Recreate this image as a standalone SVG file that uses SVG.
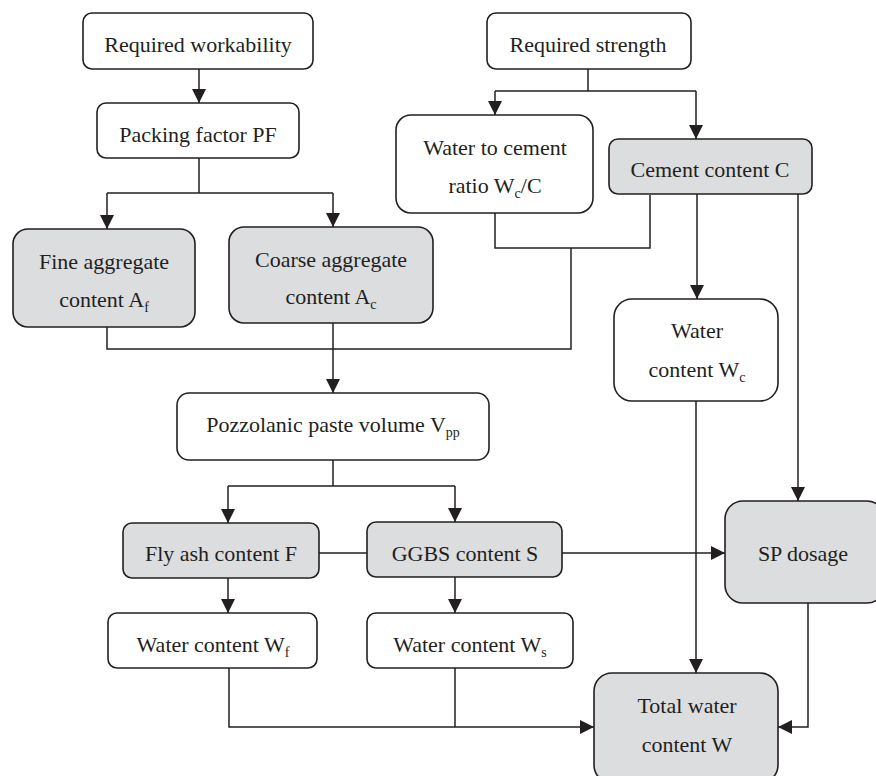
<svg xmlns="http://www.w3.org/2000/svg" width="876" height="776" viewBox="0 0 876 776">
<defs>
<marker id="ah" markerUnits="userSpaceOnUse" markerWidth="14" markerHeight="14" viewBox="0 0 14 14" refX="14" refY="7" orient="auto">
<path d="M0,0 L14,7 L0,14 Z" fill="#231f20"/>
</marker>
<style>
.b{fill:#fff;stroke:#231f20;stroke-width:1.6}
.g{fill:#dcdddf;stroke:#231f20;stroke-width:1.6}
.t{font-family:"Liberation Serif","Times New Roman",serif;font-size:22px;fill:#231f20;text-anchor:middle}
.s{font-size:14px}
.c{fill:none;stroke:#231f20;stroke-width:1.5}
.a{fill:none;stroke:#231f20;stroke-width:1.5;marker-end:url(#ah)}
</style>
</defs>
<rect width="876" height="776" fill="#fff"/>
<g id="connectors">
<path class="a" d="M199,69 V103"/>
<path class="c" d="M199,158 V193 M107,193 H333"/>
<path class="a" d="M107,193 V229"/>
<path class="a" d="M333,193 V227"/>
<path class="c" d="M588,69 V91 M495,91 H696"/>
<path class="a" d="M495,91 V115"/>
<path class="a" d="M696,91 V139"/>
<path class="c" d="M495,213 V248 H650 V195"/>
<path class="c" d="M571,248 V349 H107 V327"/>
<path class="a" d="M333,323 V393"/>
<path class="a" d="M697,194 V299"/>
<path class="a" d="M798,194 V501"/>
<path class="a" d="M696,401 V673"/>
<path class="c" d="M333,460 V486 M228,486 H455"/>
<path class="a" d="M228,486 V523"/>
<path class="a" d="M455,486 V522"/>
<path class="c" d="M319,553 H367"/>
<path class="a" d="M562,553 H725"/>
<path class="a" d="M228,578 V613"/>
<path class="a" d="M455,577 V613"/>
<path class="a" d="M229,668 V727 H594"/>
<path class="c" d="M455,668 V727"/>
<path class="a" d="M808,603 V727 H778"/>
</g>
<g id="n-workability">
<rect class="b" x="83" y="13" width="230" height="56" rx="9"/>
<text class="t" x="198" y="52">Required workability</text>
</g>
<g id="n-pf">
<rect class="b" x="97" y="103" width="202" height="55" rx="9"/>
<text class="t" x="198" y="142">Packing factor PF</text>
</g>
<g id="n-fine">
<rect class="g" x="13" y="229" width="182" height="98" rx="15"/>
<text class="t" x="104" y="269">Fine aggregate</text>
<text class="t" x="104" y="307">content A<tspan class="s" dy="5">f</tspan></text>
</g>
<g id="n-coarse">
<rect class="g" x="229" y="227" width="204" height="96" rx="15"/>
<text class="t" x="331" y="267">Coarse aggregate</text>
<text class="t" x="331" y="304">content A<tspan class="s" dy="5">c</tspan></text>
</g>
<g id="n-strength">
<rect class="b" x="487" y="13" width="204" height="56" rx="9"/>
<text class="t" x="588" y="52">Required strength</text>
</g>
<g id="n-wc">
<rect class="b" x="396" y="115" width="197" height="98" rx="15"/>
<text class="t" x="495" y="155">Water to cement</text>
<text class="t" x="495" y="193">ratio W<tspan class="s" dy="5">c</tspan><tspan dy="-5">/C</tspan></text>
</g>
<g id="n-cement">
<rect class="g" x="609" y="139" width="203" height="55" rx="9"/>
<text class="t" x="710" y="177">Cement content C</text>
</g>
<g id="n-waterc">
<rect class="b" x="614" y="299" width="164" height="102" rx="18"/>
<text class="t" x="697" y="338">Water</text>
<text class="t" x="697" y="377">content W<tspan class="s" dy="5">c</tspan></text>
</g>
<g id="n-vpp">
<rect class="b" x="177" y="393" width="312" height="67" rx="12"/>
<text class="t" x="333" y="432">Pozzolanic paste volume V<tspan class="s" dy="5">pp</tspan></text>
</g>
<g id="n-flyash">
<rect class="g" x="123" y="523" width="196" height="55" rx="9"/>
<text class="t" x="221" y="561">Fly ash content F</text>
</g>
<g id="n-ggbs">
<rect class="g" x="367" y="522" width="195" height="55" rx="9"/>
<text class="t" x="465" y="561">GGBS content S</text>
</g>
<g id="n-wf">
<rect class="b" x="108" y="613" width="209" height="55" rx="9"/>
<text class="t" x="213" y="652">Water content W<tspan class="s" dy="5">f</tspan></text>
</g>
<g id="n-ws">
<rect class="b" x="367" y="613" width="206" height="55" rx="9"/>
<text class="t" x="470" y="652">Water content W<tspan class="s" dy="5">s</tspan></text>
</g>
<g id="n-sp">
<rect class="g" x="725" y="501" width="160" height="102" rx="18"/>
<text class="t" x="803" y="561">SP dosage</text>
</g>
<g id="n-total">
<rect class="g" x="594" y="673" width="184" height="110" rx="18"/>
<text class="t" x="687" y="713">Total water</text>
<text class="t" x="687" y="752">content W</text>
</g>
</svg>
